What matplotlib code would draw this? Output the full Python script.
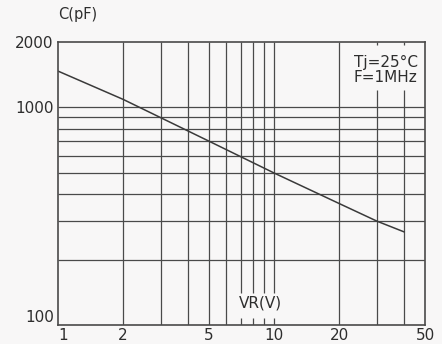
import matplotlib
matplotlib.use('Agg')
from matplotlib import pyplot as plt

# Capacitance vs reverse voltage
vr = [1, 2, 5, 10, 20, 30, 40]
cap = [1470, 1090, 700, 500, 362, 300, 268]

# Grid positions
x_grid_full = [2, 3, 4, 5, 6, 20]
x_grid_vr = [7, 8, 9, 10]      # broken by the VR(V) label
x_grid_note = [30, 40]         # broken by the Tj/F note
y_grid = [200, 300, 400, 500, 600, 700, 800, 900, 1000]

x_ticks = [1, 2, 5, 10, 20, 50]
y_ticks = [100, 1000, 2000]

plt.rcParams['font.family'] = ['DejaVu Sans']
bg = '#f8f7f7'
lc = '#4a4a4a'
tc = '#2e2e2e'

fig = plt.figure(figsize=(4.42, 3.44), dpi=100, facecolor=bg)
ax = fig.add_axes([58 / 442, 1 - 325 / 344, 367 / 442, 283 / 344])
ax.set_facecolor(bg)
ax.set_xscale('log')
ax.set_yscale('log')
ax.set_xlim(1, 50)
ax.set_ylim(100, 2000)

# Grid lines
ax.vlines(x_grid_full, 100, 2000, colors=lc, lw=0.9)
ax.vlines(x_grid_vr, 140, 2000, colors=lc, lw=0.9)
ax.vlines(x_grid_vr, 100, 108, colors=lc, lw=0.9)
ax.vlines(x_grid_note, 100, 1200, colors=lc, lw=0.9)
ax.vlines(x_grid_note, 1930, 2000, colors=lc, lw=0.9)
ax.hlines(y_grid, 1, 50, colors=lc, lw=0.9)

# Curve
ax.plot(vr, cap, color='#3a3a3a', lw=1.1)

for s in ax.spines.values():
    s.set_color(lc)
    s.set_linewidth(1.2)

ax.minorticks_off()
ax.set_xticks(x_ticks)
ax.set_xticklabels([str(v) for v in x_ticks])
ax.set_yticks(y_ticks)
ax.set_yticklabels([str(v) for v in y_ticks])
ax.tick_params(axis='both', length=0, labelsize=11, colors=tc)
ax.tick_params(axis='x', pad=2)
ax.tick_params(axis='y', pad=3)
ax.get_yticklabels()[0].set_va('bottom')
ax.get_xticklabels()[0].set_ha('left')

# Labels
fig.text(78 / 442, 1 - 15 / 344, 'C(pF)', ha='center', va='center',
         fontsize=10.5, color=tc)
ax.text((260 - 58) / 367, (325 - 303) / 283, 'VR(V)',
        transform=ax.transAxes, ha='center', va='center',
        fontsize=11, color=tc)
ax.text((418 - 58) / 367, (325 - 62) / 283, 'Tj=25\u00b0C',
        transform=ax.transAxes, ha='right', va='center',
        fontsize=11, color=tc)
ax.text((417 - 58) / 367, (325 - 78) / 283, 'F=1MHz',
        transform=ax.transAxes, ha='right', va='center',
        fontsize=11, color=tc)

fig.savefig('out.png', dpi=100, facecolor=bg)
